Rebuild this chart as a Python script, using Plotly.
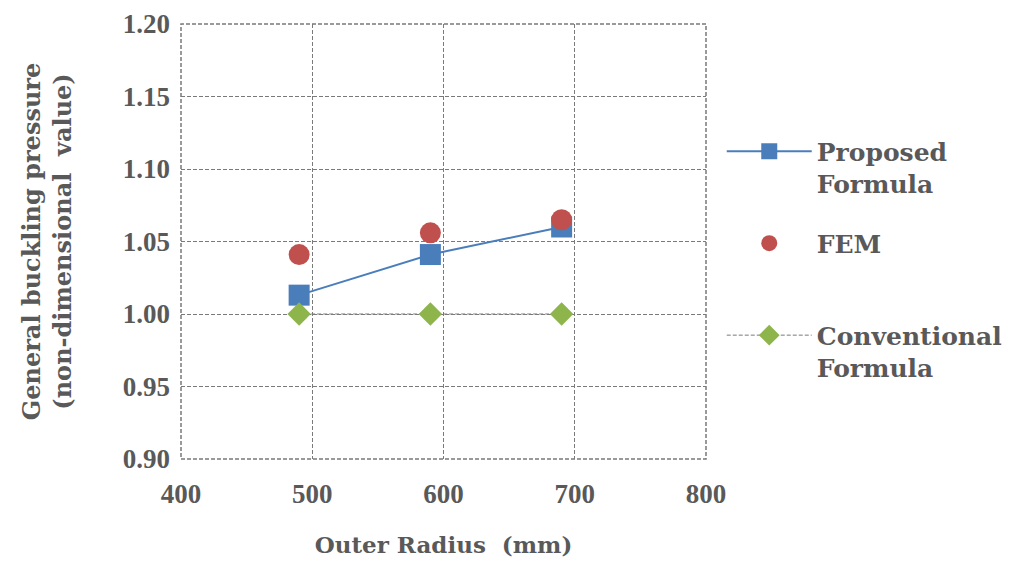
import plotly.graph_objects as go

# Outer radius (mm) and non-dimensional general buckling pressure
radius = [490, 590, 690]
proposed = [1.013, 1.041, 1.060]
fem = [1.041, 1.056, 1.065]
conventional = [1.000, 1.000, 1.000]

x_ticks = [400, 500, 600, 700, 800]
y_ticks = [0.90, 0.95, 1.00, 1.05, 1.10, 1.15, 1.20]

TEXT = "#595959"
GRID = "#7a7a7a"
TICK_FONT = "Liberation Serif"
LABEL_FONT = "DejaVu Serif"

fig = go.Figure()
fig.add_trace(go.Scatter(
    x=radius, y=proposed, name="Proposed<br>Formula", mode="lines+markers",
    legendgroup="a",
    line=dict(color="#4a7ebb", width=2),
    marker=dict(symbol="square", size=21, color="#4a7ebb"),
))
fig.add_trace(go.Scatter(
    x=radius, y=fem, name="FEM<br> ", mode="markers",
    legendgroup="b",
    marker=dict(symbol="circle", size=21, color="#c0504d"),
))
fig.add_trace(go.Scatter(
    x=radius, y=conventional, name="Conventional<br>Formula", mode="lines+markers",
    legendgroup="c",
    line=dict(color="#7a7a7a", width=1, dash="4px,2px"),
    marker=dict(symbol="diamond", size=18, color="#8db54b"),
))

axis_common = dict(
    showgrid=True, gridcolor=GRID, gridwidth=1.4, griddash="4px,2px",
    zeroline=False, showline=False, ticks="",
    tickfont=dict(family=TICK_FONT, size=27, color=TEXT, weight="bold"),
)
fig.update_xaxes(
    range=[400, 800], tickvals=x_ticks, ticktext=[str(v) for v in x_ticks],
    ticklabelstandoff=16,
    title=dict(text="<b>Outer Radius  (mm)</b>",
               font=dict(family=LABEL_FONT, size=23, color=TEXT), standoff=28),
    **axis_common,
)
fig.update_yaxes(
    range=[0.90, 1.20], tickvals=y_ticks, ticktext=[f"{v:.2f}" for v in y_ticks],
    ticklabelstandoff=10,
    title=dict(text="<b>General buckling pressure<br>(non-dimensional  value)</b>",
               font=dict(family=LABEL_FONT, size=24, color=TEXT), standoff=44),
    **axis_common,
)

# dashed frame around the plotting area
fig.add_shape(type="rect", xref="paper", yref="paper", x0=0, y0=0, x1=1, y1=1,
              line=dict(color=GRID, width=1.5, dash="4px,2px"), layer="below")

fig.update_layout(
    width=1011, height=563,
    margin=dict(l=181, r=305, t=24, b=104, autoexpand=False),
    paper_bgcolor="white", plot_bgcolor="white",
    legend=dict(
        x=1.03, y=0.76, xanchor="left", yanchor="top",
        valign="top",
        font=dict(family=LABEL_FONT, size=25, color=TEXT, weight="bold"),
        itemwidth=85, tracegroupgap=24,
    ),
)

fig.write_html("out.html")
